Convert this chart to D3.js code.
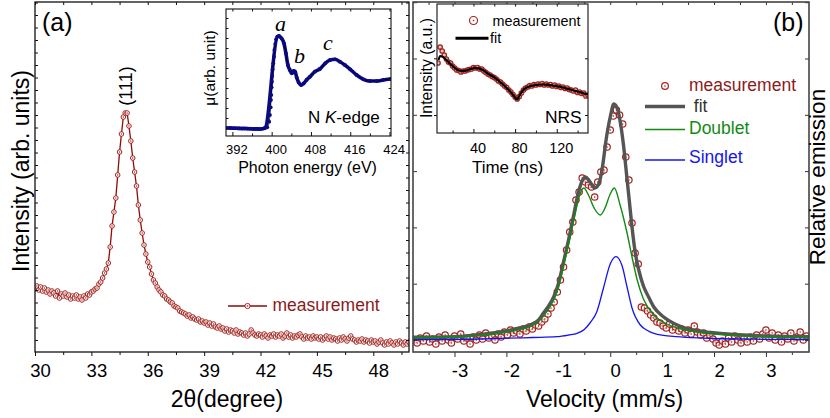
<!DOCTYPE html>
<html>
<head>
<meta charset="utf-8">
<script src="https://cdn.jsdelivr.net/npm/d3@7"></script>
<style>
  body { margin: 0; background: #fff; }
  svg { display: block; }
</style>
</head>
<body>
<svg id="chart" width="830" height="418"></svg>
<script>
// ---------- (a) XRD pattern around the (111) reflection ----------
const xrdStart = 30.0, xrdStep = 0.1;
const xrdIntensity = [
  63, 66, 62, 65, 61, 64, 60, 62, 58, 61,
  59, 56, 61, 54, 58, 56, 59, 55, 57, 53,
  56, 54, 57, 53, 55, 52, 56, 54, 58, 57,
  60, 61, 63, 64, 68, 70, 74, 79, 83, 89,
  105, 126, 140, 154, 177, 200, 218, 235, 239, 239,
  226, 211, 194, 180, 166, 147, 132, 119, 107, 98,
  90, 85, 78, 72, 69, 65, 62, 60, 57, 56,
  53, 52, 50, 49, 46, 45, 44, 41, 40, 39,
  38, 36, 37, 34, 35, 33, 32, 33, 30, 31,
  29, 30, 27, 29, 26, 28, 25, 24, 26, 23,
  24, 21, 23, 20, 22, 21, 19, 22, 18, 20,
  19, 17, 19, 16, 18, 22, 19, 17, 16, 18,
  17, 15, 18, 16, 14, 17, 16, 18, 15, 17,
  16, 18, 14, 16, 19, 15, 17, 14, 16, 15,
  17, 18, 15, 13, 16, 14, 15, 13, 16, 14,
  15, 13, 15, 12, 14, 16, 13, 15, 12, 14,
  13, 11, 14, 12, 15, 13, 11, 14, 16, 13,
  12, 10, 12, 11, 13, 10, 12, 11, 9, 12,
  10, 11, 8, 10, 12, 9, 7, 10, 8, 11,
  9, 7, 10, 8, 11, 9, 7, 10, 8, 10
];
const xrdTicks = [30, 33, 36, 39, 42, 45, 48];
const xrdMinorTicks = [31.5, 34.5, 37.5, 40.5, 43.5, 46.5, 49.5];

// ---------- (a) inset: N K-edge absorption ----------
const xasEnergy = [390.8, 391.5, 392.0, 392.5, 393.0, 393.5, 394.0, 394.5, 395.0, 395.5,
  396.0, 396.5, 397.0, 397.5, 398.0, 398.4, 398.7, 399.1, 399.5, 399.65,
  399.8, 399.86, 399.92, 400.0, 400.06, 400.12, 400.2, 400.33, 400.47, 400.55,
  400.73, 400.9, 401.15, 401.5, 402.0, 402.5, 402.9, 403.3, 403.7, 404.1,
  404.5, 404.8, 405.1, 405.5, 406.0, 406.5, 407.1, 407.8, 408.8, 409.8,
  410.9, 411.9, 412.9, 413.9, 414.9, 416.0, 417.3, 418.7, 420.0, 421.4,
  422.7, 424.2];
const xasMu = [0.080, 0.080, 0.078, 0.078, 0.077, 0.076, 0.075, 0.075, 0.074, 0.073,
  0.072, 0.071, 0.071, 0.070, 0.072, 0.076, 0.082, 0.087, 0.143, 0.21,
  0.287, 0.36, 0.41, 0.487, 0.543, 0.60, 0.667, 0.727, 0.793, 0.86,
  0.92, 0.967, 0.993, 1.0, 0.977, 0.927, 0.827, 0.71, 0.66, 0.627,
  0.652, 0.64, 0.585, 0.535, 0.51, 0.525, 0.56, 0.593, 0.643, 0.67,
  0.727, 0.76, 0.767, 0.743, 0.71, 0.667, 0.61, 0.567, 0.55, 0.55,
  0.56, 0.57];
const xasTicks = [392, 400, 408, 416, 424];
const xasMinorTicks = [396, 404, 412, 420];

// ---------- (b) Moessbauer emission spectrum ----------
const velStart = -3.78, velStep = 0.06;
const emission = [
  12, 9, 14, 11, 16, 10, 13, 8, 15, 11,
  17, 12, 9, 16, 13, 18, 11, 14, 8, 15,
  12, 17, 13, 19, 14, 16, 12, 18, 15, 20,
  17, 22, 19, 21, 18, 23, 21, 25, 23, 27,
  26, 30, 33, 38, 44, 50, 60, 72, 85, 102,
  120, 130, 152, 160, 174, 170, 167, 165, 155, 170,
  180, 182, 205, 222, 236, 242, 237, 228, 195, 172,
  129, 99, 88, 45, 44, 41, 37, 34, 30, 29,
  26, 24, 28, 22, 25, 21, 23, 19, 22, 18,
  26, 20, 17, 19, 14, 17, 13, 9, 7, 11,
  8, 14, 10, 16, 12, 9, 14, 10, 15, 11,
  17, 13, 18, 22, 14, 19, 12, 17, 10, 16,
  13, 19, 11, 15, 20, 12, 16
];
const fitVel = [-3.8, -3.0, -2.5, -2.0, -1.75, -1.5, -1.38, -1.29, -1.2, -1.09,
  -1.0, -0.9, -0.8, -0.7, -0.62, -0.55, -0.48, -0.4, -0.3, -0.22,
  -0.15, -0.08, 0.0, 0.07, 0.14, 0.2, 0.26, 0.32, 0.37, 0.42,
  0.48, 0.55, 0.64, 0.74, 0.84, 1.03, 1.29, 1.5, 1.8, 2.2,
  2.57, 3.0, 3.83];
const fitTotal = [14.7, 15.3, 17.5, 21, 24, 28, 32, 38.7, 45, 55,
  68, 90, 113, 138, 158, 170, 175, 171, 164, 168,
  185, 212, 235, 248, 243, 228, 205, 175, 150, 125,
  100, 82, 66, 55, 45, 35, 27, 23, 20.3, 18.3,
  17, 16, 15.3];
const doubletVel = [-3.8, -3.0, -2.5, -2.0, -1.5, -1.2, -1.0, -0.9, -0.8, -0.7,
  -0.6, -0.51, -0.42, -0.3, -0.19, -0.1, 0.0, 0.08, 0.19, 0.32,
  0.42, 0.52, 0.64, 0.84, 1.09, 1.3, 1.61, 2.0, 2.57, 3.0, 3.83];
const doubletVal = [14.7, 15, 16.5, 20, 26.5, 42, 64, 86, 108, 132,
  155, 164, 157, 143, 137, 144, 158, 164, 147, 120,
  95, 72, 53, 37, 28, 24, 20.5, 18, 16, 15.3, 14.7];
const singletVel = [-3.8, -2.5, -1.5, -1.03, -0.8, -0.64, -0.5, -0.39, -0.26, -0.13,
  0.0, 0.11, 0.23, 0.32, 0.42, 0.58, 0.7, 0.84, 1.29, 2.0, 3.0, 3.83];
const singletVal = [12.3, 13, 14.5, 15.3, 17, 18.7, 22.5, 29, 40, 64,
  88, 95.3, 86, 66, 44, 27, 22, 18.7, 15.3, 13.5, 12.7, 12.3];
const velTicks = [-3, -2, -1, 0, 1, 2, 3];
const velMinorTicks = [-3.5, -2.5, -1.5, -0.5, 0.5, 1.5, 2.5, 3.5];

// ---------- (b) inset: nuclear resonant scattering time spectrum ----------
const nrsStart = 6, nrsStep = 2;
const nrsMeasured = [
  70, 86, 82, 78, 74, 71, 70, 67, 65, 63,
  62.5, 61, 62, 62, 63, 63.5, 64, 65.5, 65, 65.5,
  64, 64, 62, 60.5, 59, 58, 56.5, 55.5, 54, 52,
  51, 49, 47, 45.5, 43, 41, 38.5, 36, 34, 36.5,
  40, 43, 45, 46, 47.5, 47, 48.5, 48, 49, 48.5,
  49.5, 48, 49, 48, 48.5, 47, 48, 46.5, 47, 45.5,
  46, 44.5, 45, 43.5, 43, 42, 43, 40.5, 41, 39.5,
  40, 37, 38
];
const nrsFitTime = [6.5, 8, 10, 13, 17, 21, 25, 29, 33, 37, 41, 45, 49, 53, 57, 61, 65, 69,
  73, 77, 80, 82, 84, 87, 91, 95, 100, 105, 110, 115, 120, 125, 130, 135, 140, 145, 150];
const nrsFitVal = [73, 77, 76.5, 74, 70, 66, 63, 62, 62.5, 64, 65, 64.7, 63, 60, 57.5, 55, 51.5, 48,
  44, 39.5, 35.5, 33.5, 37, 42, 45.5, 47, 48, 48.5, 48.3, 47.7, 46.8, 45.7, 44.3, 43, 41.5, 40, 38.5];
const timeTicks = [40, 80, 120];
const timeMinorTicks = [20, 60, 100, 140];

// ---------- drawing ----------
const FONT = '"Liberation Sans", Arial, Helvetica, sans-serif';
const SERIF = '"Liberation Serif", "Times New Roman", serif';
const RED = '#a3241f', DARKRED = '#8b1a1a', NAVY = '#0a0a86';
const svg = d3.select('#chart');
const LABEL_DX = 5;

function axis(gen, scale, values, tx, ty, size, opts = {}) {
  const g = svg.append('g').attr('transform', `translate(${tx},${ty})`)
    .call(gen(scale).tickValues(values).tickSize(size).tickSizeOuter(0)
      .tickFormat(opts.labels ? d3.format('d') : () => ''));
  g.select('.domain').remove();
  g.selectAll('.tick line').attr('stroke', opts.color || '#111').attr('stroke-width', 1);
  g.selectAll('.tick text')
    .attr('font-family', FONT).attr('font-size', opts.fontSize || 18)
    .attr('fill', '#000').attr('y', opts.labelY || 0).attr('dy', 0)
    .attr('dx', opts.dx || 0);
  return g;
}

function text(x, y, str, size, opts = {}) {
  const t = svg.append('text').attr('x', x).attr('y', y)
    .attr('font-family', opts.family || FONT).attr('font-size', size)
    .attr('fill', opts.fill || '#000')
    .attr('text-anchor', opts.anchor || 'start');
  if (opts.rotate) t.attr('transform', `rotate(${opts.rotate},${x},${y})`);
  if (opts.style) t.attr('font-style', opts.style);
  t.text(str);
  return t;
}

function clip(id, x0, y0, x1, y1) {
  svg.append('clipPath').attr('id', id).append('rect')
    .attr('x', x0).attr('y', y0).attr('width', x1 - x0).attr('height', y1 - y0);
}

// ===== Panel (a) =====
const A = { x0: 35, x1: 409, y0: 2, y1: 352 };
const xA = d3.scaleLinear().domain([30, 49.9]).range([A.x0, A.x1]);
const yA = d3.scaleLinear().domain([0, 350]).range([A.y1, A.y0]);
clip('clipA', A.x0, A.y0, A.x1, A.y1);

const xrd = xrdIntensity.map((v, i) => ({ x: xrdStart + i * xrdStep, y: v }));
const gA = svg.append('g').attr('clip-path', 'url(#clipA)');
gA.append('path').datum(xrd)
  .attr('d', d3.line().x(d => xA(d.x)).y(d => yA(d.y)))
  .attr('fill', 'none').attr('stroke', '#8b0a0a').attr('stroke-width', 1.3);
gA.selectAll('circle.m').data(xrd).join('circle')
  .attr('cx', d => xA(d.x)).attr('cy', d => yA(d.y)).attr('r', 2.3)
  .attr('fill', '#fff').attr('stroke', RED).attr('stroke-width', 1);
gA.selectAll('circle.c').data(xrd).join('circle')
  .attr('cx', d => xA(d.x)).attr('cy', d => yA(d.y)).attr('r', 0.7)
  .attr('fill', RED);

axis(d3.axisBottom, xA, xrdTicks, 0, A.y1, 4, { labels: true, fontSize: 18.5, labelY: 25, dx: LABEL_DX });
axis(d3.axisBottom, xA, xrdMinorTicks, 0, A.y1, 3);
axis(d3.axisTop, xA, xrdTicks.concat(xrdMinorTicks), 0, A.y0, -3);
const yATicks = d3.range(12, 350, 12.5);
axis(d3.axisLeft, yA, yATicks, A.x0, 0, -3);
axis(d3.axisRight, yA, yATicks, A.x1, 0, -3);
svg.append('rect').attr('x', A.x0).attr('y', A.y0).attr('width', A.x1 - A.x0).attr('height', A.y1 - A.y0)
  .attr('fill', 'none').attr('stroke', '#111').attr('stroke-width', 1.3);

text(42, 31, '(a)', 25);
text(131.5, 86, '(111)', 18, { anchor: 'middle', rotate: -90 });
text(28.5, 171, 'Intensity (arb. units)', 23, { anchor: 'middle', rotate: -90 });
text(227, 407, '2\u03b8(degree)', 23, { anchor: 'middle' });

// legend (a)
svg.append('line').attr('x1', 228).attr('x2', 267).attr('y1', 306).attr('y2', 306)
  .attr('stroke', '#8b0a0a').attr('stroke-width', 1.3);
svg.append('circle').attr('cx', 247.5).attr('cy', 306).attr('r', 2.6)
  .attr('fill', '#fff').attr('stroke', RED).attr('stroke-width', 1);
svg.append('circle').attr('cx', 247.5).attr('cy', 306).attr('r', 0.8).attr('fill', RED);
text(272.5, 311, 'measurement', 17.5, { fill: DARKRED });

// ===== inset (a): XAS =====
const I = { x0: 226, x1: 391, y0: 9, y1: 136 };
const xI = d3.scaleLinear().domain([390.7, 424.3]).range([I.x0, I.x1]);
const yI = d3.scaleLinear().domain([0, 1.27]).range([I.y1, I.y0]);
svg.append('rect').attr('x', I.x0).attr('y', I.y0).attr('width', I.x1 - I.x0).attr('height', I.y1 - I.y0)
  .attr('fill', '#fff');
clip('clipI', I.x0, I.y0, I.x1, I.y1);
const xas = xasEnergy.map((e, i) => ({ x: e, y: xasMu[i] }));
const gI = svg.append('g').attr('clip-path', 'url(#clipI)');
const xasLine = d3.line().x(d => xI(d.x)).y(d => yI(d.y)).curve(d3.curveMonotoneX);
gI.append('path').datum(xas.filter(d => d.x < 398.9 || d.x > 401.0)).attr('d', xasLine)
  .attr('fill', 'none').attr('stroke', NAVY).attr('stroke-width', 3.6).attr('stroke-linejoin', 'round');
gI.append('path').datum(xas).attr('d', xasLine)
  .attr('fill', 'none').attr('stroke', '#000').attr('stroke-width', 0.8);
gI.selectAll('circle').data(xas).join('circle')
  .attr('cx', d => xI(d.x)).attr('cy', d => yI(d.y)).attr('r', 1.9).attr('fill', NAVY);

axis(d3.axisBottom, xI, xasTicks, 0, I.y1, -4, { labels: true, fontSize: 13, labelY: 18, dx: 4 });
axis(d3.axisBottom, xI, xasMinorTicks, 0, I.y1, -2.5);
axis(d3.axisTop, xI, xasTicks.concat(xasMinorTicks), 0, I.y0, -2.5);
const yITicks = d3.range(0.08, 1.27, 0.1);
axis(d3.axisLeft, yI, yITicks, I.x0, 0, -2.5);
axis(d3.axisRight, yI, yITicks, I.x1, 0, -2.5);
svg.append('rect').attr('x', I.x0).attr('y', I.y0).attr('width', I.x1 - I.x0).attr('height', I.y1 - I.y0)
  .attr('fill', 'none').attr('stroke', '#111').attr('stroke-width', 1.1);

text(280.5, 31, 'a', 22, { family: SERIF, style: 'italic', anchor: 'middle' });
text(299.5, 63, 'b', 22, { family: SERIF, style: 'italic', anchor: 'middle' });
text(328, 50, 'c', 22, { family: SERIF, style: 'italic', anchor: 'middle' });
const nk = svg.append('text').attr('x', 308).attr('y', 123).attr('font-family', FONT)
  .attr('font-size', 17).attr('fill', '#000');
nk.append('tspan').text('N ');
nk.append('tspan').attr('font-style', 'italic').text('K');
nk.append('tspan').text('-edge');
text(215, 68, '\u03bc(arb. unit)', 15.5, { anchor: 'middle', rotate: -90 });
text(307.5, 173, 'Photon energy (eV)', 16, { anchor: 'middle' });

// ===== Panel (b) =====
const B = { x0: 413, x1: 809, y0: 2, y1: 352 };
const xB = d3.scaleLinear().domain([-3.8, 3.83]).range([B.x0, B.x1]);
const yB = d3.scaleLinear().domain([0, 350]).range([B.y1, B.y0]);
clip('clipB', B.x0, B.y0, B.x1, B.y1);
const gB = svg.append('g').attr('clip-path', 'url(#clipB)');
const meas = emission.map((v, i) => ({ x: velStart + i * velStep, y: v }));
const curve = (xs, ys) => xs.map((x, i) => ({ x, y: ys[i] }));
const lineB = d3.line().x(d => xB(d.x)).y(d => yB(d.y)).curve(d3.curveMonotoneX);

gB.selectAll('circle.m').data(meas).join('circle')
  .attr('cx', d => xB(d.x)).attr('cy', d => yB(d.y)).attr('r', 3.2)
  .attr('fill', '#fff').attr('fill-opacity', 0.6).attr('stroke', RED).attr('stroke-width', 1.2);
gB.selectAll('circle.c').data(meas).join('circle')
  .attr('cx', d => xB(d.x)).attr('cy', d => yB(d.y)).attr('r', 0.8).attr('fill', RED);
gB.append('path').datum(curve(fitVel, fitTotal)).attr('d', lineB)
  .attr('fill', 'none').attr('stroke', '#555').attr('stroke-width', 3.4);
gB.append('path').datum(curve(doubletVel, doubletVal)).attr('d', lineB)
  .attr('fill', 'none').attr('stroke', '#128a12').attr('stroke-width', 1.4);
gB.append('path').datum(curve(singletVel, singletVal)).attr('d', lineB)
  .attr('fill', 'none').attr('stroke', '#1414f0').attr('stroke-width', 1.3);

axis(d3.axisBottom, xB, velTicks, 0, B.y1, 5, { labels: true, fontSize: 18.5, labelY: 25, dx: LABEL_DX, color: '#333' })
  .selectAll('.tick text').text(d => d3.format('d')(d).replace('\u2212', '-'));
axis(d3.axisBottom, xB, velMinorTicks, 0, B.y1, 3, { color: '#333' });
axis(d3.axisTop, xB, velTicks.concat(velMinorTicks), 0, B.y0, -3, { color: '#333' });
const yBTicks = d3.range(12, 350, 56.3);
axis(d3.axisLeft, yB, yBTicks, B.x0, 0, -4, { color: '#333' });
axis(d3.axisRight, yB, yBTicks, B.x1, 0, -4, { color: '#333' });
svg.append('rect').attr('x', B.x0).attr('y', B.y0).attr('width', B.x1 - B.x0).attr('height', B.y1 - B.y0)
  .attr('fill', 'none').attr('stroke', '#444').attr('stroke-width', 1.6);

text(773, 31, '(b)', 25);
text(604.5, 407, 'Velocity (mm/s)', 23, { anchor: 'middle' });
text(825, 177, 'Relative emission', 22.5, { anchor: 'middle', rotate: -90 });

// legend (b)
svg.append('circle').attr('cx', 665).attr('cy', 86).attr('r', 3.4)
  .attr('fill', '#fff').attr('stroke', RED).attr('stroke-width', 1.2);
svg.append('circle').attr('cx', 665).attr('cy', 86).attr('r', 0.8).attr('fill', RED);
text(689, 91, 'measurement', 17.5, { fill: DARKRED });
svg.append('line').attr('x1', 645).attr('x2', 685).attr('y1', 106.5).attr('y2', 106.5)
  .attr('stroke', '#555').attr('stroke-width', 3.4);
text(689, 112, ' fit', 17.5, { fill: '#333' }).attr('xml:space', 'preserve');
svg.append('line').attr('x1', 645).attr('x2', 685).attr('y1', 129.5).attr('y2', 129.5)
  .attr('stroke', '#128a12').attr('stroke-width', 1.4);
text(689, 134, 'Doublet', 17.5, { fill: '#128a12' });
svg.append('line').attr('x1', 645).attr('x2', 685).attr('y1', 160).attr('y2', 160)
  .attr('stroke', '#1414f0').attr('stroke-width', 1.3);
text(689, 163, 'Singlet', 17.5, { fill: '#1414f0' });

// ===== inset (b): NRS =====
const N = { x0: 437, x1: 588, y0: 4, y1: 133 };
const xN = d3.scaleLinear().domain([5, 150]).range([N.x0, N.x1]);
const yN = d3.scaleLinear().domain([0, 129]).range([N.y1, N.y0]);
svg.append('rect').attr('x', N.x0).attr('y', N.y0).attr('width', N.x1 - N.x0).attr('height', N.y1 - N.y0)
  .attr('fill', '#fff');
clip('clipN', N.x0, N.y0, N.x1, N.y1);
const gN = svg.append('g').attr('clip-path', 'url(#clipN)');
const nrs = nrsMeasured.map((v, i) => ({ x: nrsStart + i * nrsStep, y: v }));
gN.selectAll('circle').data(nrs).join('circle')
  .attr('cx', d => xN(d.x)).attr('cy', d => yN(d.y)).attr('r', 2.2)
  .attr('fill', '#e9c4c0').attr('stroke', RED).attr('stroke-width', 1.3);
gN.append('path').datum(curve(nrsFitTime, nrsFitVal))
  .attr('d', d3.line().x(d => xN(d.x)).y(d => yN(d.y)).curve(d3.curveMonotoneX))
  .attr('fill', 'none').attr('stroke', '#000').attr('stroke-width', 2.2);

axis(d3.axisBottom, xN, timeTicks, 0, N.y1, -4, { labels: true, fontSize: 14.5, labelY: 20, dx: 4 });
axis(d3.axisBottom, xN, timeMinorTicks, 0, N.y1, -2.5);
axis(d3.axisTop, xN, timeTicks.concat(timeMinorTicks), 0, N.y0, -2.5);
const yNTicks = [18, 74.7];
axis(d3.axisLeft, yN, yNTicks, N.x0, 0, 3);
axis(d3.axisRight, yN, yNTicks, N.x1, 0, -3);
svg.append('rect').attr('x', N.x0).attr('y', N.y0).attr('width', N.x1 - N.x0).attr('height', N.y1 - N.y0)
  .attr('fill', 'none').attr('stroke', '#111').attr('stroke-width', 1.1);

svg.append('circle').attr('cx', 473.5).attr('cy', 20.5).attr('r', 4)
  .attr('fill', '#fff').attr('stroke', RED).attr('stroke-width', 1.2);
svg.append('circle').attr('cx', 473.5).attr('cy', 20.5).attr('r', 0.8).attr('fill', RED);
text(492.5, 26, 'measurement', 14.4);
svg.append('line').attr('x1', 455.5).attr('x2', 488.5).attr('y1', 38.3).attr('y2', 38.3)
  .attr('stroke', '#000').attr('stroke-width', 3);
text(490, 43, 'fit', 14.4);
text(545, 123, 'NRS', 17.4);
text(507.5, 173, 'Time (ns)', 17, { anchor: 'middle' });
text(432, 68, 'Intensity (a.u.)', 15.8, { anchor: 'middle', rotate: -90 });
</script>
</body>
</html>
